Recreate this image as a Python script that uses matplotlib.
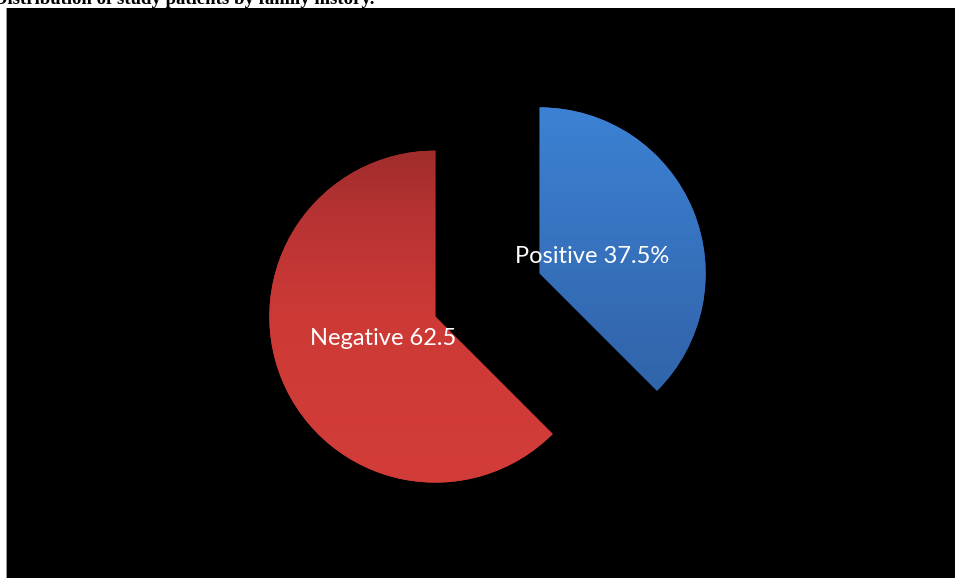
import matplotlib
matplotlib.use("Agg")
import matplotlib.pyplot as plt
import numpy as np
from matplotlib.colors import LinearSegmentedColormap
from matplotlib.patches import Rectangle

# Family history of study patients (percent)
categories = ["Positive", "Negative"]
percentages = [37.5, 62.5]
label_suffix = ["%", ""]
title_text = "Distribution of study patients by family history."

W, H = 955, 578
fig = plt.figure(figsize=(W / 100, H / 100), dpi=100)
fig.patch.set_facecolor("white")

# Black chart panel with a thin grey left edge
panel_left, panel_top = 7, 8
fig.patches.append(Rectangle((panel_left / W, 0), (W - panel_left) / W, (H - panel_top) / H,
                             transform=fig.transFigure, facecolor="black", edgecolor="none", zorder=-2))
fig.patches.append(Rectangle(((panel_left - 1.5) / W, 0), 1.5 / W, (H - panel_top) / H,
                             transform=fig.transFigure, facecolor="#9a9a9a", edgecolor="none", zorder=-2))

ax = fig.add_axes([panel_left / W, 0, (W - panel_left) / W, (H - panel_top) / H])
ax.set_zorder(1)
ax.set_facecolor("none")

# Pixel geometry of the pie inside the panel
r_px = 166.0
cx_px, cy_px = 487.5, 295.0

labels = [f"{c} {v:g}{s}" for c, v, s in zip(categories, percentages, label_suffix)]
wedges, texts = ax.pie(
    percentages,
    labels=labels,
    startangle=90,
    counterclock=False,
    explode=[0.34, 0.34],
    labeldistance=0.34,
    radius=1.0,
    colors=["#3874C4", "#C83835"],
    wedgeprops=dict(linewidth=0),
    textprops=dict(color="white", fontsize=17, family=["Lato", "DejaVu Sans"]),
)
for t in texts:
    t.set_horizontalalignment("center")
    t.set_verticalalignment("center")
    t.set_zorder(5)
# nudge the upper label slightly down
x, y = texts[0].get_position()
texts[0].set_position((x, y - 5 / r_px))

# Vertical gradient fills clipped to each wedge
cmaps = [
    LinearSegmentedColormap.from_list("blue", [(0.0, "#2F62A6"), (0.3, "#3368B0"), (1.0, "#3C82D4")]),
    LinearSegmentedColormap.from_list("red", [(0.0, "#D23D39"), (0.5, "#CD3A36"), (0.8, "#B83333"), (1.0, "#A02C2C")]),
]
grad = np.linspace(0, 1, 256).reshape(-1, 1)
for w, cm in zip(wedges, cmaps):
    cx, cy = w.center
    r = w.r
    im = ax.imshow(grad, cmap=cm, origin="lower", aspect="auto",
                   extent=[cx - r, cx + r, cy - r, cy + r], zorder=2, interpolation="bilinear")
    im.set_clip_path(w)

ax.set_xlim(-(cx_px - panel_left) / r_px, (W - cx_px) / r_px)
ax.set_ylim(-(H - cy_px) / r_px, (cy_px - panel_top) / r_px)
ax.set_aspect("auto")
ax.axis("off")

# Title, partly cut off at the top edge
title = fig.text(-6 / W, 1 - 3.5 / H, title_text, family="Liberation Serif", weight="bold",
                 fontsize=13.5, color="black", ha="left", va="baseline")

fig.savefig("out.png", dpi=100, facecolor=fig.get_facecolor())
